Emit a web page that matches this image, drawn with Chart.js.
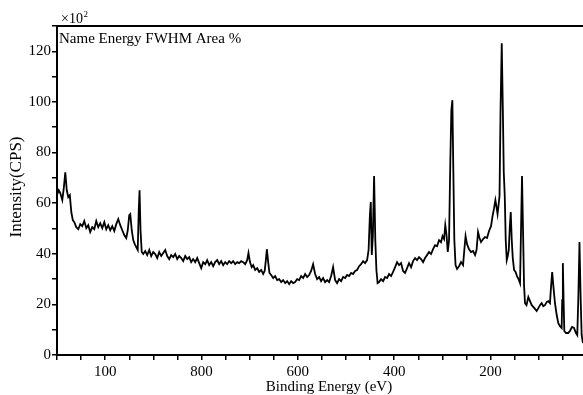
<!DOCTYPE html>
<html>
<head>
<meta charset="utf-8">
<script src="https://cdn.jsdelivr.net/npm/chart.js@4"></script>
<style>
html,body{margin:0;padding:0;background:#fff;}
#wrap{width:583px;height:395px;}
</style>
</head>
<body>
<div id="wrap"><canvas id="c" width="583" height="395"></canvas></div>
<script>
const energies = [1100, 1096.3, 1093.2, 1089, 1085.9, 1082.8, 1079.7, 1076.6, 1073.4, 1070.3, 1067.2, 1064.1, 1060, 1055.8, 1051.7, 1047.5, 1043.4, 1039.2, 1035.1, 1031, 1026.8, 1022.6, 1018.5, 1014.3, 1010.2, 1006, 1001.8, 997.7, 993.6, 989.4, 985.3, 981.1, 977, 972.8, 968.7, 964.5, 960.4, 956.2, 953.1, 950, 947.9, 944.8, 941.7, 938.6, 935.5, 932.4, 930.3, 928.6, 926.6, 924.1, 921, 916.8, 912.7, 908.5, 904.4, 900.2, 896.1, 891.9, 887.8, 883.6, 879.5, 875.3, 871.2, 867, 862.9, 858.7, 854.6, 850.4, 846.3, 842.1, 838, 833.8, 829.7, 825.5, 821.4, 817.2, 813.1, 808.9, 804.8, 800.6, 796.5, 792.3, 788.2, 784, 779.9, 775.7, 771.6, 767.4, 763.3, 759.1, 755, 750.8, 746.7, 742.5, 738.4, 734.2, 730.1, 725.9, 721.8, 717.6, 713.5, 709.3, 705.2, 702.5, 699.4, 695.8, 692.7, 688.6, 684.4, 680.3, 676.1, 672, 668.9, 666.4, 664.3, 661.6, 658.9, 655.4, 651.2, 647.1, 642.9, 638.8, 634.6, 630.5, 626.3, 622.2, 618, 613.9, 609.7, 605.6, 601.4, 597.3, 593.1, 589, 584.9, 580.7, 576.6, 572.4, 568.3, 564.1, 560, 555.8, 551.7, 547.5, 543.4, 539.2, 535.1, 530.9, 526.8, 522.6, 518.5, 514.3, 510.2, 506, 501.9, 497.7, 493.6, 489.4, 485.3, 481.1, 477, 472.8, 468.7, 464.5, 460.4, 456.2, 453.1, 450.4, 448.6, 446.5, 444.2, 441.7, 439.2, 436.9, 434.4, 431.3, 427.2, 423, 418.9, 414.7, 410.6, 406.4, 402.3, 398.1, 394, 389.8, 385.7, 381.5, 377.4, 373.2, 369.1, 364.9, 360.8, 356.6, 352.5, 348.3, 344.2, 340, 335.9, 331.7, 327.6, 323.4, 319.3, 315.1, 311, 306.8, 302.7, 299.6, 296.4, 293.9, 291.3, 288.8, 286.1, 283.4, 281.3, 279.2, 277.2, 275.1, 272.6, 269.5, 265.3, 261.2, 257, 254.4, 251.8, 248.7, 244.6, 240.4, 236.3, 232.1, 229, 225.9, 222.8, 219.7, 215.5, 211.4, 207.2, 203.1, 198.9, 195.8, 192.6, 189.9, 187.5, 185.4, 183.3, 181.3, 179.2, 176.7, 174.4, 172.5, 170.5, 168.4, 166.3, 164.2, 162.1, 160.1, 158, 155.9, 153.8, 151.1, 148, 145, 141.8, 138.7, 136.7, 134.6, 132.5, 130.4, 128.4, 125.3, 121.5, 118, 114.5, 111.2, 107.7, 104.2, 100.4, 97.3, 93.8, 90.5, 87, 83.4, 80.1, 76.6, 74.5, 72, 69.7, 66.2, 62.6, 59.3, 55.8, 52.3, 51.2, 49.8, 48.3, 46.8, 43.3, 38.6, 35, 30.9, 26.7, 22.6, 19.9, 17.8, 15.3, 12.8, 10.8, 8.1];

const intensities = [63.2, 65.1, 64.0, 61.2, 65.9, 72.2, 65.1, 62.4, 63.2, 56.5, 53.3, 52.5, 50.5, 49.7, 51.7, 50.9, 52.9, 50.1, 51.3, 48.6, 50.5, 49.7, 52.9, 50.5, 52.1, 50.1, 52.5, 49.7, 51.3, 49.3, 50.9, 49.0, 51.7, 53.7, 51.3, 49.3, 47.4, 46.2, 49.3, 55.3, 55.7, 49.3, 45.4, 43.8, 42.6, 41.5, 57.2, 65.1, 49.3, 40.7, 39.9, 41.1, 39.5, 41.5, 39.1, 40.7, 39.9, 38.3, 40.7, 39.1, 40.3, 41.5, 39.1, 37.9, 39.5, 38.7, 39.9, 37.9, 39.1, 38.3, 37.1, 39.1, 37.9, 38.7, 36.7, 37.9, 36.7, 38.3, 36.3, 34.3, 36.7, 35.9, 37.5, 35.5, 36.7, 35.1, 36.7, 37.5, 35.9, 37.1, 35.5, 36.7, 35.9, 37.1, 36.3, 37.1, 35.9, 36.7, 36.3, 37.1, 36.7, 35.9, 37.5, 40.3, 36.7, 34.7, 35.5, 33.6, 34.3, 32.8, 33.6, 32.0, 33.2, 37.5, 41.8, 36.7, 32.4, 31.6, 30.4, 31.2, 29.6, 30.0, 28.8, 29.6, 28.4, 29.2, 28.0, 29.2, 28.4, 28.8, 30.0, 29.6, 31.2, 30.4, 32.0, 30.8, 31.6, 33.2, 35.9, 32.0, 30.0, 30.8, 29.2, 30.4, 28.8, 29.6, 28.8, 31.2, 34.7, 29.6, 28.4, 30.0, 29.2, 30.8, 30.4, 31.6, 31.2, 32.4, 32.0, 33.2, 33.6, 35.1, 35.9, 37.1, 36.3, 37.5, 41.5, 55.3, 60.4, 39.5, 47.4, 70.7, 45.4, 33.6, 28.4, 28.8, 30.0, 29.2, 30.8, 30.4, 32.0, 31.2, 32.8, 34.7, 36.7, 35.5, 36.3, 33.2, 32.4, 34.3, 36.3, 34.7, 37.1, 38.3, 37.5, 38.7, 37.9, 36.7, 38.3, 39.5, 40.7, 39.9, 41.8, 43.4, 43.0, 45.4, 44.6, 47.0, 45.8, 51.3, 47.4, 40.7, 45.4, 77.0, 96.7, 100.7, 73.0, 45.4, 35.5, 34.0, 35.1, 36.7, 35.5, 41.5, 47.0, 43.8, 41.8, 40.7, 41.1, 39.5, 41.5, 48.6, 46.2, 44.6, 45.8, 46.6, 46.2, 49.0, 50.9, 54.9, 58.0, 61.2, 58.4, 55.7, 59.2, 62.8, 96.7, 123.2, 96.7, 72.2, 63.2, 45.4, 37.5, 39.1, 41.5, 50.1, 56.5, 45.4, 38.3, 33.6, 32.8, 31.2, 30.0, 28.4, 49.3, 70.7, 49.3, 27.6, 20.5, 19.7, 22.9, 21.3, 19.7, 19.0, 18.2, 17.4, 18.6, 19.7, 20.5, 19.3, 19.7, 20.9, 21.3, 20.5, 26.5, 32.8, 27.6, 20.5, 15.8, 12.6, 11.4, 10.7, 21.7, 36.3, 21.7, 9.5, 8.7, 8.7, 9.5, 11.1, 10.7, 8.7, 7.9, 21.7, 44.6, 21.7, 7.9, 4.7];

const xTickValues = [1000, 800, 600, 400, 200];
const xTickLabels = ['100', '800', '600', '400', '200'];
const yTickValues = [0, 20, 40, 60, 80, 100, 120];
const yTickLabels = ['0', '20', '40', '60', '80', '100', '120'];
const xTitle = 'Binding Energy (eV)';
const yTitle = 'Intensity(CPS)';
const headerText = 'Name Energy FWHM Area %';
const scaleBase = '×10';
const scaleExp = '2';

const FONT = '"Liberation Serif", "Times New Roman", serif';
const points = energies.map((e, i) => ({x: e, y: intensities[i]}));

const decor = {
  id: 'decor',
  afterDraw(chart) {
    const ctx = chart.ctx, a = chart.chartArea;
    ctx.save();
    ctx.strokeStyle = '#000';
    ctx.lineWidth = 2;
    ctx.beginPath();
    ctx.moveTo(a.left - 1, a.top);
    ctx.lineTo(a.right, a.top);
    ctx.stroke();
    ctx.fillStyle = '#000';
    ctx.textBaseline = 'alphabetic';
    ctx.textAlign = 'left';
    ctx.font = '15px ' + FONT;
    ctx.fillText(headerText, a.left + 2, a.top + 17);
    ctx.font = '14px ' + FONT;
    ctx.fillText(scaleBase, a.left + 4, a.top - 3);
    const w = ctx.measureText(scaleBase).width;
    ctx.font = '9px ' + FONT;
    ctx.fillText(scaleExp, a.left + 4 + w + 0.5, a.top - 9);
    ctx.font = '15px ' + FONT;
    ctx.textAlign = 'center';
    ctx.fillText(xTitle, 329, 391);
    ctx.translate(21, 187);
    ctx.rotate(-Math.PI / 2);
    ctx.font = '17px ' + FONT;
    ctx.fillText(yTitle, 0, 0);
    ctx.restore();
  }
};

new Chart(document.getElementById('c'), {
  type: 'line',
  data: {
    datasets: [{
      data: points,
      borderColor: '#000',
      borderWidth: 1.8,
      pointRadius: 0,
      tension: 0,
      fill: false
    }]
  },
  options: {
    responsive: false,
    devicePixelRatio: 1,
    animation: false,
    layout: {padding: {top: 26, right: 0, left: 0, bottom: 0}},
    plugins: {legend: {display: false}, tooltip: {enabled: false}},
    scales: {
      x: {
        type: 'linear',
        reverse: true,
        min: 8,
        max: 1100,
        afterFit(s) { s.height = 40; },
        border: {display: true, color: '#000', width: 2},
        grid: {display: true, drawOnChartArea: false, drawTicks: true, tickLength: 5, color: '#000', lineWidth: 1.5},
        ticks: {
          stepSize: 50,
          includeBounds: false,
          autoSkip: false,
          maxRotation: 0,
          padding: 3,
          color: '#000',
          font: {family: FONT, size: 15},
          callback(v) { const i = xTickValues.indexOf(v); return i >= 0 ? xTickLabels[i] : ''; }
        }
      },
      y: {
        type: 'linear',
        min: 0,
        max: 130,
        afterFit(s) { s.width = 57; },
        border: {display: true, color: '#000', width: 2},
        grid: {display: true, drawOnChartArea: false, drawTicks: true, tickLength: 5, color: '#000', lineWidth: 1.5},
        ticks: {
          stepSize: 10,
          autoSkip: false,
          padding: 1,
          color: '#000',
          font: {family: FONT, size: 15},
          callback(v) { const i = yTickValues.indexOf(v); return i >= 0 ? yTickLabels[i] : ''; }
        }
      }
    }
  },
  plugins: [decor]
});
</script>
</body>
</html>
